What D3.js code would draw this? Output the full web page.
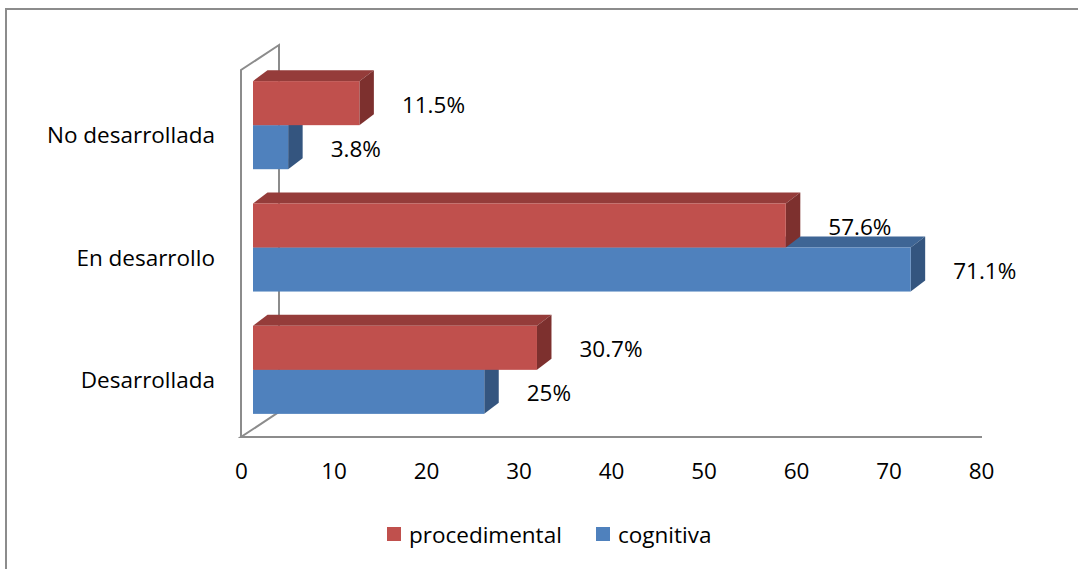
<!DOCTYPE html>
<html>
<head>
<meta charset="utf-8">
<script src="https://cdnjs.cloudflare.com/ajax/libs/d3/7.8.5/d3.min.js"></script>
<style>
  html, body { margin: 0; padding: 0; background: #fff; }
  svg { display: block; font-family: "Open Sans", "Noto Sans", sans-serif; }
</style>
</head>
<body>
<svg id="chart" width="1078" height="569"></svg>
<script>
// Categories (top to bottom) and the two series, in percent
const categories = ["No desarrollada", "En desarrollo", "Desarrollada"];
const seriesNames = ["procedimental", "cognitiva"];
const procedimental = [11.5, 57.6, 30.7];
const cognitiva = [3.8, 71.1, 25];
const valueLabels = {
  procedimental: ["11.5%", "57.6%", "30.7%"],
  cognitiva: ["3.8%", "71.1%", "25%"]
};
const xTicks = [0, 10, 20, 30, 40, 50, 60, 70, 80];

const colors = {
  procedimental: { front: "#C0504D", top: "#953C3A", side: "#7D302E" },
  cognitiva:     { front: "#4F81BD", top: "#3E6595", side: "#34557F" }
};

const svg = d3.select("#chart");
const FS = 22.5;

// Outer chart frame
svg.append("rect")
  .attr("x", 6).attr("y", 9).attr("width", 1090).attr("height", 580)
  .attr("fill", "none").attr("stroke", "#8c8c8c").attr("stroke-width", 2);

// Scales
const x = d3.scaleLinear().domain([0, 80]).range([241, 981]);
const y = d3.scaleBand().domain(categories).range([64, 431])
  .paddingInner(0.28).paddingOuter(0.14);
const ySub = d3.scaleBand().domain(seriesNames).range([0, y.bandwidth()]);

// 3D geometry: wall depth and bar depth offsets
const wallDx = 38, wallDy = 25;
const barShift = 12;          // bar front plane shift from axis plane
const barDx = 14.5, barDy = 11;
const wallTop = 70, floorY = 437;

// Back wall and floor edges
const wall = svg.append("g").attr("stroke", "#8c8c8c").attr("stroke-width", 2)
  .attr("fill", "none").attr("stroke-linecap", "square");
const x0 = x(0);
wall.append("path").attr("d", d3.line()([
  [x0, floorY], [x0, wallTop], [x0 + wallDx, wallTop - wallDy], [x0 + wallDx, floorY - wallDy]
]));
wall.append("path").attr("d", d3.line()([
  [x0 + wallDx, floorY - wallDy], [x0, floorY], [x(80), floorY]
]));

// Bars: lower series (cognitiva) first so the upper bar sits in front
const bars = svg.append("g");
const order = ["cognitiva", "procedimental"];
const dataBy = { procedimental, cognitiva };
order.forEach(name => {
  categories.forEach((cat, i) => {
    const v = dataBy[name][i];
    const c = colors[name];
    const xl = x(0) + barShift;
    const xr = x(v) + barShift;
    const yt = y(cat) + ySub(name);
    const h = ySub.bandwidth();
    const g = bars.append("g");
    // top face
    g.append("path").attr("fill", c.top).attr("d", d3.line()([
      [xl, yt], [xl + barDx, yt - barDy], [xr + barDx, yt - barDy], [xr, yt]
    ]) + "Z");
    // side face
    g.append("path").attr("fill", c.side).attr("d", d3.line()([
      [xr, yt], [xr + barDx, yt - barDy], [xr + barDx, yt + h - barDy], [xr, yt + h]
    ]) + "Z");
    // front face
    g.append("rect").attr("x", xl).attr("y", yt).attr("width", xr - xl).attr("height", h)
      .attr("fill", c.front);
  });
});

// Value labels
const labels = svg.append("g").attr("font-size", FS).attr("fill", "#000");
seriesNames.forEach(name => {
  categories.forEach((cat, i) => {
    const v = dataBy[name][i];
    labels.append("text")
      .attr("x", x(v) + barShift + 42.5)
      .attr("y", y(cat) + ySub(name) + ySub.bandwidth() / 2 + 1)
      .attr("dominant-baseline", "central")
      .text(valueLabels[name][i]);
  });
});

// Category labels
svg.append("g").attr("font-size", FS).attr("fill", "#000")
  .selectAll("text").data(categories).join("text")
  .attr("x", 215)
  .attr("y", d => y(d) + y.bandwidth() / 2 + 9.5)
  .attr("text-anchor", "end")
  .attr("dominant-baseline", "central")
  .text(d => d);

// X axis tick labels
const xAxis = d3.axisBottom(x).tickValues(xTicks).tickSize(0).tickPadding(0);
const axisG = svg.append("g").attr("transform", `translate(0, ${floorY + 26})`).call(xAxis);
axisG.select(".domain").remove();
axisG.selectAll("text").attr("font-size", FS).attr("fill", "#000")
  .attr("font-family", "'Open Sans', 'Noto Sans', sans-serif");

// Legend
const legendItems = [
  { name: "procedimental", x: 387 },
  { name: "cognitiva", x: 596 }
];
const legend = svg.append("g");
legendItems.forEach(it => {
  legend.append("rect").attr("x", it.x).attr("y", 527).attr("width", 14).attr("height", 14)
    .attr("fill", colors[it.name].front);
  legend.append("text").attr("x", it.x + 22).attr("y", 534)
    .attr("dominant-baseline", "central").attr("font-size", FS).text(it.name);
});
</script>
</body>
</html>
